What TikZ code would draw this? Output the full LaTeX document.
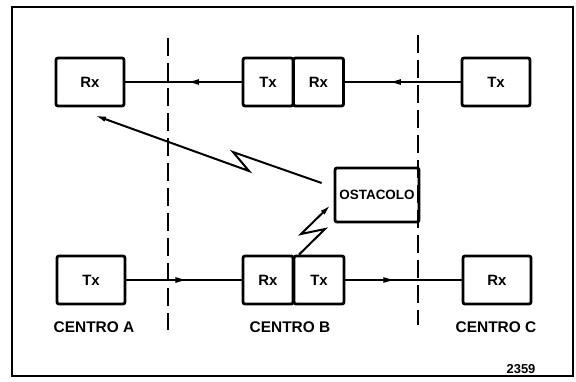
\documentclass[tikz,border=0pt]{standalone}
\usepackage{fontspec}
\setmainfont{Liberation Sans}
\usepackage{tikz}
\usetikzlibrary{arrows.meta,positioning,calc}

\begin{document}
\begin{tikzpicture}[x=1bp,y=-1bp,
  unit/.style={draw,line width=2.8bp,rounded corners=2bp,minimum height=48bp,inner sep=0pt,font=\bfseries\fontsize{15}{17}\selectfont},
  wide/.style={unit,minimum width=68bp},
  half/.style={unit,minimum width=50bp},
  conn/.style={line width=1.5bp},
  headarrow/.style={line width=1.5bp,-{Latex[length=12bp,width=6bp]}},
  bolt/.style={line width=2bp,-{Latex[length=11bp,width=5.5bp]}},
  divider/.style={line width=2bp,dash pattern=on 18bp off 7bp},
  lab/.style={inner sep=0pt,font=\bfseries\fontsize{15.5}{17}\selectfont}]
\useasboundingbox (0,0) rectangle (576,381);
\draw[line width=1.6bp] (12,7) rectangle (573,376);
\coordinate (d1t) at (168,38);
\coordinate (d1b) at (168,330);
\coordinate (d2t) at (418,35);
\coordinate (d2b) at (418,325);
\draw[divider] (d1t) -- (d1b);
\draw[divider] (d2t) -- (d2b);
\node[wide] (rxA) at (90,82) {Rx};
\node[half] (txBt) at (268,82) {Tx};
\node[half] (rxBt) at (318.5,82) {Rx};
\node[wide] (txC) at (496,82) {Tx};
\node[wide] (txA) at (91,280) {Tx};
\node[half] (rxBb) at (268,280) {Rx};
\node[half] (txBb) at (319,280) {Tx};
\node[wide] (rxC) at (497,280) {Rx};
\node[unit,minimum width=84bp,minimum height=54bp,font=\bfseries\fontsize{13.5}{15}\selectfont] (ostacolo) at (377,195) {OSTACOLO};
\draw[conn] (txBt.west) -- (rxA.east);
\draw[headarrow] (txBt.west) -- ($(txBt.west)!0.47!(rxA.east)$);
\draw[conn] (txC.west) -- (rxBt.east);
\draw[headarrow] (txC.west) -- ($(txC.west)!0.62!(rxBt.east)$);
\draw[conn] (txA.east) -- (rxBb.west);
\draw[headarrow] (txA.east) -- ($(txA.east)!0.53!(rxBb.west)$);
\draw[conn] (txBb.east) -- (rxC.west);
\draw[headarrow] (txBb.east) -- ($(txBb.east)!0.43!(rxC.west)$);
\draw[bolt] ([shift={(-12,-12)}]ostacolo.west) -- (233,152) -- (249,171) -- ([shift={(5,8)}]rxA.south);
\draw[bolt] ([xshift=-20bp]txBb.north) -- (325,229) -- (301,234) -- ([shift={(-3,10)}]ostacolo.west);
\node[lab] (cenA) at (94,327) {CENTRO A};
\node[lab] (cenB) at (290,327) {CENTRO B};
\node[lab] (cenC) at (496,327) {CENTRO C};
\node[inner sep=0pt,font=\bfseries\fontsize{13}{15}\selectfont] (num) at (521,369) {2359};
\end{tikzpicture}
\end{document}
